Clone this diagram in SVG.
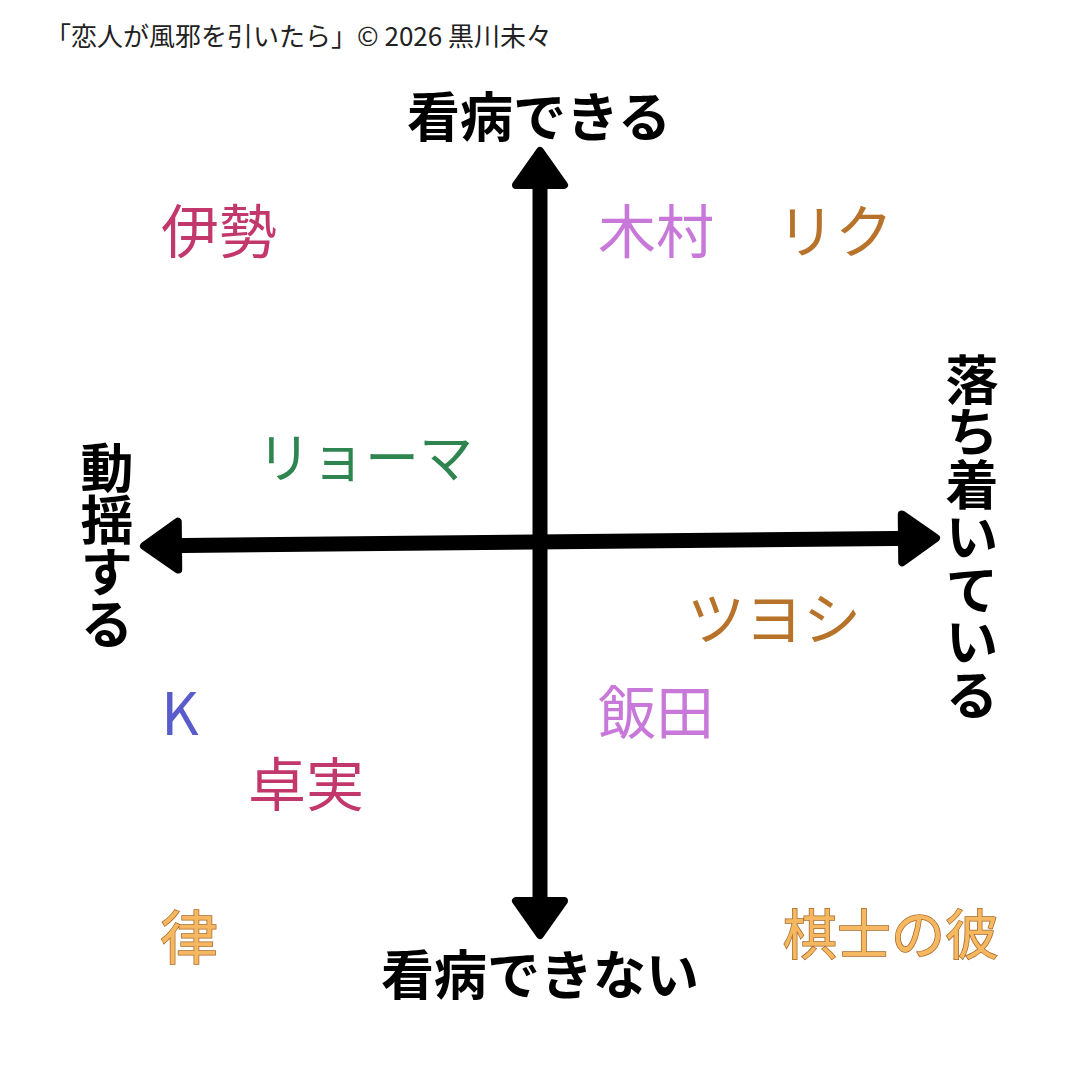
<svg xmlns="http://www.w3.org/2000/svg" width="1080" height="1080" viewBox="0 0 1080 1080">
<style>
text{font-family:"Noto Sans CJK JP","Noto Sans",sans-serif}
.title{font-size:26px;fill:#222}
.axis{font-size:53px;font-weight:700;fill:#000;text-anchor:middle}
.vert{font-size:53px;font-weight:700;fill:#000;writing-mode:vertical-rl;text-anchor:start}
.name{font-size:58px;text-anchor:middle}
.small{font-size:54px}
.crimson{fill:#c2386c}
.orchid{fill:#c878d8}
.brown{fill:#b8732a}
.green{fill:#2e8550}
.blue{fill:#5a5ccc}
.orange{fill:#f5b860;stroke:#a8692a;stroke-width:1.5px;paint-order:stroke fill}
.line{stroke:#000;stroke-width:15;fill:none}
</style>
<defs>
<marker id="arrow" markerUnits="userSpaceOnUse" viewBox="-25 -32 50 64" markerWidth="50" markerHeight="64" refX="0" refY="0" orient="auto-start-reverse">
<path d="M -18 -24 L 16 0 L -18 24 Z" fill="#000" stroke="#000" stroke-width="8" stroke-linejoin="round"/>
</marker>
</defs>
<rect width="1080" height="1080" fill="#fff"/>
<text id="title" class="title" x="45" y="46">「恋人が風邪を引いたら」© 2026 黒川未々</text>
<g id="connectors">
<line id="axis-vertical" class="line" x1="540" y1="919" x2="540" y2="167" marker-start="url(#arrow)" marker-end="url(#arrow)"/>
<line id="axis-horizontal" class="line" x1="160" y1="545.8" x2="920" y2="538.2" marker-start="url(#arrow)" marker-end="url(#arrow)"/>
</g>
<g id="label-top"><text class="axis" x="539" y="137">看病できる</text></g>
<g id="label-bottom"><text class="axis" x="540" y="995">看病できない</text></g>
<g id="label-left"><text class="vert" x="107" y="441" letter-spacing="-1">動揺する</text></g>
<g id="label-right"><text class="vert" x="972" y="353" letter-spacing="-0.5">落ち着いている</text></g>
<g id="node-ise"><text class="name crimson" x="219" y="253">伊勢</text></g>
<g id="node-kimura"><text class="name orchid" x="656" y="253">木村</text></g>
<g id="node-riku"><text class="name brown" x="835" y="253">リク</text></g>
<g id="node-ryoma"><text class="name small green" x="365" y="478">リョーマ</text></g>
<g id="node-tsuyoshi"><text class="name brown" x="774" y="640">ツヨシ</text></g>
<g id="node-iida"><text class="name orchid" x="656" y="734">飯田</text></g>
<g id="node-k"><text class="name blue" x="180" y="735">K</text></g>
<g id="node-takumi"><text class="name crimson" x="306" y="806">卓実</text></g>
<g id="node-ritsu"><text class="name orange" x="189" y="959">律</text></g>
<g id="node-kishi"><text class="name small orange" x="891" y="955">棋士の彼</text></g>
</svg>
